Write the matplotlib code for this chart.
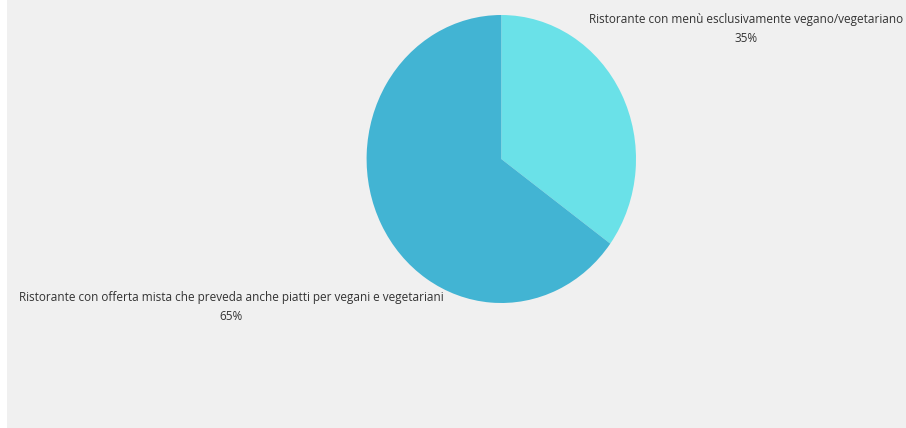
import matplotlib
matplotlib.use("Agg")
import matplotlib.pyplot as plt
from matplotlib.patches import Rectangle

labels = ["Ristorante con menù esclusivamente vegano/vegetariano",
          "Ristorante con offerta mista che preveda anche piatti per vegani e vegetariani"]
values = [35, 65]
colors = ["#6ae1e8", "#42b4d3"]

W, H = 906, 428
fig = plt.figure(figsize=(W / 100, H / 100), dpi=100)
fig.patch.set_facecolor("white")
fig.patches.append(Rectangle((7 / W, 0), 1 - 7 / W, 1, transform=fig.transFigure,
                             facecolor="#f0f0f0", edgecolor="none", zorder=-1))

# pie is slightly stretched vertically in the original
cx, cy, rx, ry = 501.3, 428 - 159, 134.7, 144
ax = fig.add_axes([(cx - rx) / W, (cy - ry) / H, 2 * rx / W, 2 * ry / H])
ax.pie(values, colors=colors, startangle=90, counterclock=False,
       wedgeprops=dict(linewidth=0))
ax.set_aspect("auto")
ax.set_xlim(-1, 1)
ax.set_ylim(-1, 1)
ax.axis("off")

plt.rcParams['font.family'] = ['Open Sans', 'DejaVu Sans']
pos = [(746, 29), (231, 307)]
for lab, v, (x, y) in zip(labels, values, pos):
    fig.text(x / W, 1 - y / H, f"{lab}\n{v}%", ha="center", va="center",
             fontsize=8.5, color="#333333", linespacing=1.6)

fig.savefig("out.png", dpi=100, facecolor=fig.get_facecolor())
